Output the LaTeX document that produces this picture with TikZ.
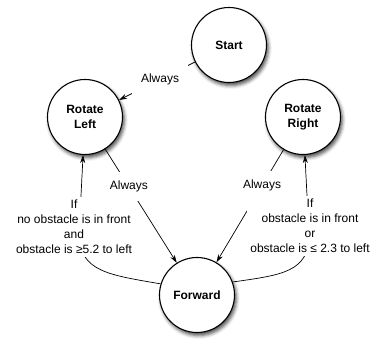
\documentclass[tikz,border=0pt]{standalone}
\usepackage{fontspec}
\setmainfont{Liberation Sans}
\usetikzlibrary{arrows.meta,shadows.blur}
\begin{document}
\begin{tikzpicture}[x=1pt,y=-1pt,
  state/.style={circle,draw=black,line width=1.1pt,fill=white,minimum size=75pt,inner sep=0pt,align=center,
    font=\fontsize{12}{15}\selectfont\bfseries,
    blur shadow={shadow xshift=1.8pt,shadow yshift=-3pt,shadow blur radius=3.5pt,shadow opacity=70}},
  trans/.style={line width=0.7pt,-{Stealth[length=8pt,width=5pt]}},
  lbl/.style={fill=white,inner sep=9pt,align=center,font=\fontsize{12}{15}\selectfont},
  cond/.style={fill=white,inner sep=3.5pt,align=center,font=\fontsize{12}{15}\selectfont}]
\useasboundingbox (0,0) rectangle (376,341);
\node[state] (start) at (229,45) {Start};
\node[state] (left) at (85,117) {Rotate\\Left};
\node[state] (right) at (303,117) {Rotate\\Right};
\node[state] (forward) at (197,295) {Forward};
\draw[trans] (start) -- node[lbl,pos=0.46] {Always} (left);
\draw[trans] (left) -- node[lbl,pos=0.33] {Always} (forward);
\draw[trans] (right) -- node[lbl,pos=0.32] {Always} (forward);
\coordinate (bl) at (79,235);
\coordinate (br) at (309,235);
\draw[trans] (forward.163) .. controls (110,275) and (80,272) .. (bl) -- (left);
\draw[trans] (forward.20) .. controls (282,275) and (309,272) .. (br) -- (right);
\node[cond] (condL) at (74,227) {If\\no obstacle is in front\\and\\obstacle is ≥5.2 to left};
\node[cond] (condR) at (310,226) {If\\obstacle is in front\\or\\obstacle is ≤ 2.3 to left};
\end{tikzpicture}
\end{document}
